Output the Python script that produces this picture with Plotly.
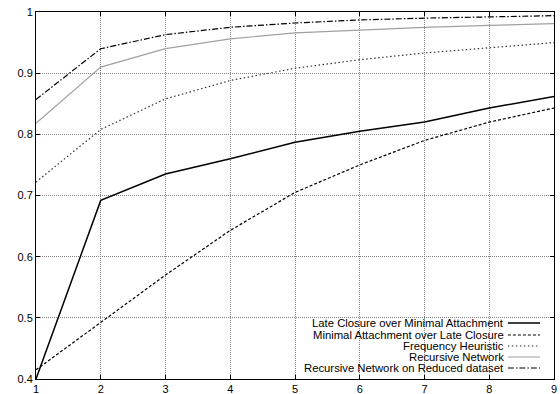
import plotly.graph_objects as go

x_vals = [1, 2, 3, 4, 5, 6, 7, 8, 9]

late_closure = [0.400, 0.692, 0.735, 0.760, 0.787, 0.805, 0.820, 0.843, 0.862]
minimal_attachment = [0.415, 0.493, 0.570, 0.643, 0.705, 0.750, 0.790, 0.820, 0.843]
frequency_heuristic = [0.722, 0.808, 0.858, 0.888, 0.908, 0.922, 0.933, 0.941, 0.950]
recursive_network = [0.818, 0.910, 0.940, 0.956, 0.966, 0.971, 0.975, 0.978, 0.981]
recursive_reduced = [0.857, 0.940, 0.963, 0.975, 0.982, 0.987, 0.990, 0.992, 0.994]

series_names = [
    "Late Closure over Minimal Attachment",
    "Minimal Attachment over Late Closure",
    "Frequency Heuristic",
    "Recursive Network",
    "Recursive Network on Reduced dataset",
]
series_values = [late_closure, minimal_attachment, frequency_heuristic,
                 recursive_network, recursive_reduced]
styles = [
    dict(color="black", width=1.5, dash="solid"),
    dict(color="black", width=1.2, dash="3px,2px"),
    dict(color="#333333", width=1.2, dash="1.5px,2.5px"),
    dict(color="#a0a0a0", width=1.2, dash="solid"),
    dict(color="black", width=1.2, dash="6px,2px,1.5px,2px"),
]

x_ticks = [1, 2, 3, 4, 5, 6, 7, 8, 9]
y_ticks = [0.4, 0.5, 0.6, 0.7, 0.8, 0.9, 1.0]
y_tick_labels = ["0.4", "0.5", "0.6", "0.7", "0.8", "0.9", "1"]

font_family = "Liberation Sans, Arial, Helvetica, sans-serif"

fig = go.Figure()
for name, vals, st in zip(series_names, series_values, styles):
    fig.add_trace(go.Scatter(x=x_vals, y=vals, mode="lines", name=name,
                             line=st, showlegend=False, hoverinfo="skip"))

# Gnuplot-style legend: opaque key area, right-aligned text, line sample on the right
row_y = [0.1526, 0.1199, 0.0899, 0.0599, 0.0300]
annotations = []
shapes = [dict(type="rect", xref="paper", yref="paper", layer="below",
               x0=0.51, x1=0.99, y0=0.012, y1=0.163,
               fillcolor="white", line=dict(width=0))]
for name, st, yy in zip(series_names, styles, row_y):
    annotations.append(dict(xref="paper", yref="paper", x=0.905, y=yy,
                            text=name, showarrow=False, xanchor="right",
                            yanchor="middle", borderpad=0,
                            font=dict(family=font_family, size=11.3, color="black")))
    shapes.append(dict(type="line", xref="paper", yref="paper",
                       x0=0.911, x1=0.973, y0=yy, y1=yy,
                       line=dict(color=st["color"], width=st["width"], dash=st["dash"])))

axis_common = dict(
    showline=True, linecolor="black", linewidth=1, mirror="ticks",
    ticks="inside", ticklen=4, tickcolor="black",
    showgrid=True, gridcolor="#808080", griddash="1px,1px", gridwidth=1,
    zeroline=False, automargin=False, ticklabeloverflow="allow",
    tickfont=dict(family=font_family, size=11, color="black"),
)

fig.update_layout(
    width=560, height=394,
    margin=dict(l=36, r=6, t=12, b=15),
    paper_bgcolor="white", plot_bgcolor="white",
    xaxis=dict(range=[1, 9], tickvals=x_ticks, **axis_common),
    yaxis=dict(range=[0.4, 1.0], tickvals=y_ticks, ticktext=y_tick_labels,
               **axis_common),
    annotations=annotations,
    shapes=shapes,
    showlegend=False,
    hovermode=False,
)

# remove the page's default body margin so the figure fills the window exactly
fig.write_html("out.html",
               config={"displayModeBar": False},
               post_script="document.body.style.margin='0';document.body.style.overflow='hidden';")
